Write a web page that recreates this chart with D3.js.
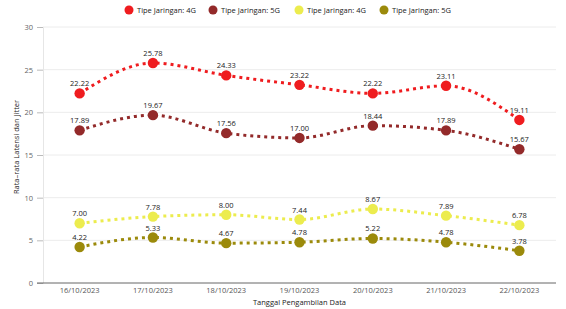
<!DOCTYPE html>
<html>
<head>
<meta charset="utf-8">
<script src="https://cdn.jsdelivr.net/npm/d3@7"></script>
<style>
  body { margin: 0; background: #fff; }
  text { font-family: "Open Sans", "DejaVu Sans", sans-serif; }
</style>
</head>
<body>
<div id="chart"></div>
<script>
// data
var dates = ["16/10/2023", "17/10/2023", "18/10/2023", "19/10/2023", "20/10/2023", "21/10/2023", "22/10/2023"];
var seriesNames = ["Tipe Jaringan: 4G", "Tipe Jaringan: 5G", "Tipe Jaringan: 4G", "Tipe Jaringan: 5G"];
var latency4G = [22.22, 25.78, 24.33, 23.22, 22.22, 23.11, 19.11];
var latency5G = [17.89, 19.67, 17.56, 17.00, 18.44, 17.89, 15.67];
var jitter4G = [7.00, 7.78, 8.00, 7.44, 8.67, 7.89, 6.78];
var jitter5G = [4.22, 5.33, 4.67, 4.78, 5.22, 4.78, 3.78];
var yTicks = [0, 5, 10, 15, 20, 25, 30];

var colors = ["#ef1c1f", "#932a2a", "#ecec4e", "#9b8a0b"];
var allSeries = [latency4G, latency5G, jitter4G, jitter5G];

var svgWidth = 566, svgHeight = 309;
var margin = { top: 27, right: 10, bottom: 26, left: 43 };
var width = svgWidth - margin.left - margin.right;
var height = svgHeight - margin.top - margin.bottom;

var svg = d3.select("#chart").append("svg")
    .attr("width", svgWidth)
    .attr("height", svgHeight);

var chartGroup = svg.append("g")
    .attr("transform", `translate(${margin.left}, ${margin.top})`);

var xScale = d3.scaleBand().domain(dates).range([0, width]);
var yScale = d3.scaleLinear().domain([0, 30]).range([height, 0]);

// grid lines
chartGroup.append("g")
    .selectAll("line")
    .data(yTicks.filter(function(d) { return d > 0; }))
    .enter()
    .append("line")
    .attr("x1", 0).attr("x2", width)
    .attr("y1", function(d) { return yScale(d); })
    .attr("y2", function(d) { return yScale(d); })
    .attr("stroke", "#ececec")
    .attr("stroke-width", 1);

// y axis
var leftAxis = d3.axisLeft(yScale).tickValues(yTicks).tickSize(6).tickPadding(4);
var yAxisG = chartGroup.append("g").call(leftAxis);
yAxisG.select(".domain").attr("stroke", "#e6e6e6");
yAxisG.selectAll(".tick line").attr("stroke", "#bbb");
yAxisG.selectAll(".tick text").attr("fill", "#666").style("font-size", "7.5px");

// x axis
var bottomAxis = d3.axisBottom(xScale).tickSize(0).tickPadding(5);
var xAxisG = chartGroup.append("g")
    .attr("transform", `translate(0, ${height})`)
    .call(bottomAxis);
xAxisG.select(".domain").remove();
xAxisG.selectAll(".tick text").attr("fill", "#555").style("font-size", "7.5px");
chartGroup.append("line")
    .attr("x1", -6).attr("x2", width)
    .attr("y1", height).attr("y2", height)
    .attr("stroke", "#666").attr("stroke-width", 1);

// lines, points and labels
var cx = function(d, i) { return xScale(dates[i]) + xScale.bandwidth() / 2; };
var line = d3.line()
    .x(cx)
    .y(function(d) { return yScale(d); })
    .curve(d3.curveMonotoneX);

allSeries.forEach(function(values, s) {
    chartGroup.append("path")
        .datum(values)
        .attr("d", line)
        .attr("fill", "none")
        .attr("stroke", colors[s])
        .attr("stroke-width", 3)
        .attr("stroke-dasharray", "3,4");

    chartGroup.append("g")
        .selectAll("circle")
        .data(values)
        .enter()
        .append("circle")
        .attr("cx", cx)
        .attr("cy", function(d) { return yScale(d); })
        .attr("r", 5.2)
        .attr("fill", colors[s]);

    chartGroup.append("g")
        .selectAll("text")
        .data(values)
        .enter()
        .append("text")
        .attr("x", cx)
        .attr("y", function(d) { return yScale(d) - 7; })
        .attr("text-anchor", "middle")
        .attr("fill", "#222")
        .style("font-size", "7.5px")
        .text(function(d) { return d.toFixed(2); });
});

// legend
var legendX = [129, 213, 299, 384];
var legend = svg.append("g");
seriesNames.forEach(function(name, s) {
    legend.append("circle")
        .attr("cx", legendX[s]).attr("cy", 10)
        .attr("r", 4.5)
        .attr("fill", colors[s]);
    legend.append("text")
        .attr("x", legendX[s] + 8).attr("y", 13)
        .attr("fill", "#222")
        .style("font-size", "7.5px")
        .text(name);
});

// axis titles
chartGroup.append("text")
    .attr("transform", "rotate(-90)")
    .attr("x", -height / 2 + 8)
    .attr("y", -24)
    .attr("text-anchor", "middle")
    .attr("fill", "#222")
    .style("font-size", "7.5px")
    .text("Rata\u2013rata Latensi dan Jitter");

chartGroup.append("text")
    .attr("x", width / 2)
    .attr("y", height + 22)
    .attr("text-anchor", "middle")
    .attr("fill", "#222")
    .style("font-size", "7.5px")
    .text("Tanggal Pengambilan Data");
</script>
</body>
</html>
